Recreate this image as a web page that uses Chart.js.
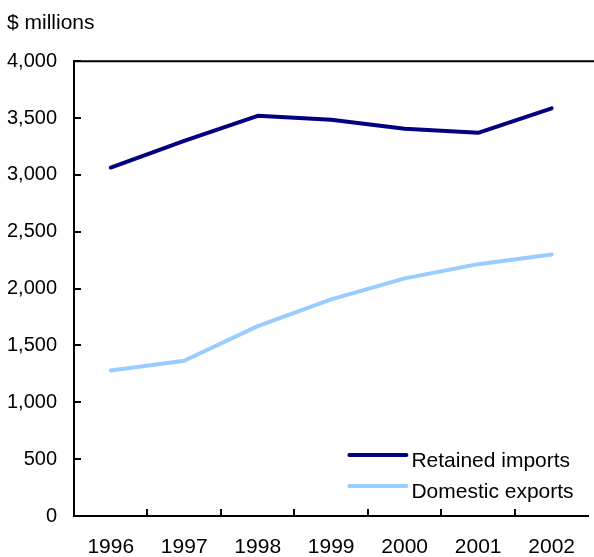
<!DOCTYPE html>
<html>
<head>
<meta charset="utf-8">
<script src="https://cdn.jsdelivr.net/npm/chart.js@4"></script>
<style>
  html, body { margin: 0; padding: 0; background: #fff; overflow: hidden; }
  #wrap { width: 594px; height: 557px; position: relative; }
  canvas { display: block; }
</style>
</head>
<body>
<div id="wrap"><canvas id="chart"></canvas></div>
<script>
const years = ['1996', '1997', '1998', '1999', '2000', '2001', '2002'];
const retainedImports = [3065, 3300, 3520, 3485, 3405, 3370, 3585];
const domesticExports = [1280, 1365, 1670, 1905, 2090, 2215, 2300];

Chart.defaults.font.family = '"Liberation Sans", Arial, sans-serif';
Chart.defaults.font.size = 21;
Chart.defaults.color = '#000';

// inward tick marks, top frame line and the legend inside the plot
const frame = {
    id: 'frame',
    afterDraw(chart) {
        const ctx = chart.ctx;
        const area = chart.chartArea;
        const x = chart.scales.x;
        const y = chart.scales.y;
        ctx.save();
        ctx.strokeStyle = '#000';
        ctx.lineWidth = 2;
        ctx.beginPath();
        ctx.moveTo(area.left, area.top);
        ctx.lineTo(area.right + 6, area.top);
        y.ticks.forEach(function(t) {
            const py = Math.round(y.getPixelForValue(t.value));
            ctx.moveTo(area.left, py);
            ctx.lineTo(area.left + 7, py);
        });
        for (let i = 1; i < years.length; i++) {
            const px = Math.round((x.getPixelForValue(i - 1) + x.getPixelForValue(i)) / 2);
            ctx.moveTo(px, area.bottom);
            ctx.lineTo(px, area.bottom - 7);
        }
        ctx.stroke();

        chart.data.datasets.forEach(function(ds, i) {
            const ly = area.bottom - 61 + i * 31;
            ctx.strokeStyle = ds.borderColor;
            ctx.lineWidth = 4;
            ctx.lineCap = 'round';
            ctx.beginPath();
            ctx.moveTo(area.right - 239, ly);
            ctx.lineTo(area.right - 182, ly);
            ctx.stroke();
            ctx.fillStyle = '#000';
            ctx.font = '21px "Liberation Sans", Arial, sans-serif';
            ctx.textBaseline = 'alphabetic';
            ctx.fillText(ds.label, area.right - 177, ly + 12);
        });
        ctx.restore();
    }
};

new Chart(document.getElementById('chart'), {
    type: 'line',
    data: {
        labels: years,
        datasets: [
            {
                label: 'Retained imports',
                data: retainedImports,
                borderColor: '#000080',
                backgroundColor: '#000080',
                borderWidth: 4,
                borderCapStyle: 'round',
                borderJoinStyle: 'round',
                pointRadius: 0,
                fill: false
            },
            {
                label: 'Domestic exports',
                data: domesticExports,
                borderColor: '#99ccff',
                backgroundColor: '#99ccff',
                borderWidth: 4,
                borderCapStyle: 'round',
                borderJoinStyle: 'round',
                pointRadius: 0,
                fill: false
            }
        ]
    },
    options: {
        responsive: true,
        maintainAspectRatio: false,
        animation: false,
        layout: { padding: { left: 7, right: 0, top: 0, bottom: 0 } },
        plugins: {
            legend: { display: false },
            tooltip: { enabled: false },
            title: {
                display: true,
                text: '$ millions',
                align: 'start',
                font: { size: 21, weight: 'normal' },
                padding: { top: 11, bottom: 25 }
            }
        },
        scales: {
            x: {
                offset: true,
                grid: { display: true, offset: true, drawOnChartArea: false, drawTicks: false },
                border: { display: true, color: '#000', width: 2 },
                ticks: { padding: 19, maxRotation: 0 },
                afterFit: function(scale) { scale.height = 41; }
            },
            y: {
                min: 0,
                max: 4000,
                ticks: { stepSize: 500, padding: 17, font: { size: 20 } },
                grid: { display: false, drawTicks: false },
                border: { display: true, color: '#000', width: 2 },
                afterFit: function(scale) { scale.width = 67; }
            }
        }
    },
    plugins: [frame]
});
</script>
</body>
</html>
